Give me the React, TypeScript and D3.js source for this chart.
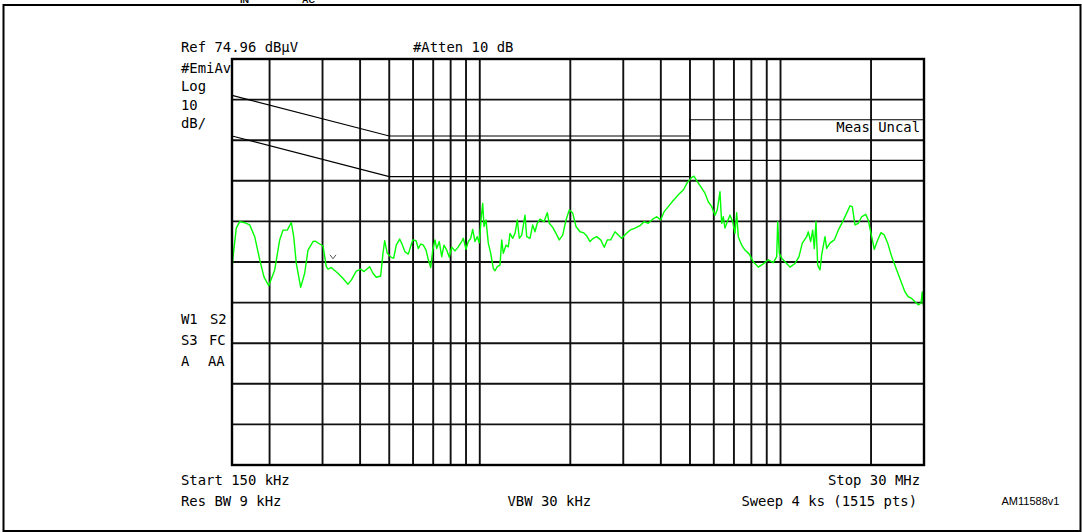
import React from "react";
import * as d3 from "d3";

// ---- Data ----
const refLevelDb = 74.96;
const dbPerDiv = 10;
const startMHz = 0.15;
const stopMHz = 30;
const gridFreqMHz = [0.2, 0.3, 0.4, 0.5, 0.6, 0.7, 0.8, 0.9, 1, 2, 3, 4, 5, 6, 7, 8, 9, 10, 20];

const qpLimitFreq = [0.15, 0.5, 5, 5, 30];
const qpLimitDb = [66, 56, 56, 60, 60];
const avgLimitFreq = [0.15, 0.5, 5, 5, 30];
const avgLimitDb = [56, 46, 46, 50, 50];

const traceFreqMHz = [
  0.150, 0.1512, 0.1550, 0.1591, 0.1644, 0.1718, 0.1785, 0.1855, 0.1916, 0.1987,
  0.2080, 0.2161, 0.2216, 0.2291, 0.2362, 0.2406, 0.2454, 0.2538, 0.2617, 0.2684,
  0.2789, 0.2838, 0.2936, 0.3011, 0.3088, 0.3128, 0.3208, 0.3275, 0.3377, 0.3509,
  0.3645, 0.3739, 0.3885, 0.4018, 0.4121, 0.4305, 0.4414, 0.4527, 0.4682, 0.4765,
  0.4828, 0.4925, 0.5078, 0.5172, 0.5276, 0.5415, 0.5512, 0.5640, 0.5784, 0.5985,
  0.6138, 0.6247, 0.6363, 0.6491, 0.6626, 0.6744, 0.6869, 0.6975, 0.7097, 0.7190,
  0.7335, 0.7471, 0.7604, 0.7763, 0.7919, 0.8066, 0.8272, 0.8483, 0.8707, 0.8814,
  0.8999, 0.9159, 0.9328, 0.9472, 0.9640, 0.9812, 0.9963, 1.0094, 1.0226, 1.0328,
  1.0488, 1.0674, 1.0872, 1.1091, 1.1236, 1.1436, 1.1675, 1.1828, 1.1973, 1.2224,
  1.2441, 1.2604, 1.2867, 1.3096, 1.3329, 1.3534, 1.3785, 1.4138, 1.4323, 1.4688,
  1.4995, 1.5261, 1.5532, 1.5857, 1.6351, 1.6769, 1.7028, 1.7476, 1.7923, 1.8381,
  1.8866, 1.9350, 1.9845, 2.0368, 2.0889, 2.1539, 2.2090, 2.2673, 2.3254, 2.3848,
  2.4478, 2.5240, 2.5944, 2.6547, 2.7246, 2.8158, 2.8878, 2.9640, 3.0630, 3.1583,
  3.2815, 3.4095, 3.5155, 3.6330, 3.7575, 3.8744, 3.9950, 4.0973, 4.2346, 4.3998,
  4.5715, 4.7502, 4.8979, 5.0656, 5.1556, 5.2632, 5.4268, 5.6083, 5.7520, 5.9036,
  6.0549, 6.1624, 6.2910, 6.3734, 6.4519, 6.5364, 6.6526, 6.7915, 6.9334, 7.0566,
  7.1490, 7.2371, 7.4281, 7.6181, 7.8730, 8.1178, 8.4351, 8.7644, 9.1065, 9.4620,
  9.7116, 9.7864, 9.9070, 10.091, 10.349, 10.752, 11.172, 11.519, 11.814, 12.219,
  12.370, 12.599, 12.793, 12.951, 13.121, 13.292, 13.529, 13.706, 14.056, 14.240,
  14.605, 15.094, 15.563, 16.097, 16.597, 17.022, 17.324, 17.687, 18.138, 18.617,
  19.196, 19.582, 19.991, 20.502, 21.044, 21.582, 22.134, 22.718, 23.426, 24.339,
  25.287, 25.934, 26.598, 27.300, 27.999, 28.716, 29.315, 29.609, 29.837, 30.0,
];
const traceLevelDb = [
  23.0, 26.2, 33.3, 34.9, 34.7, 34.1, 31.2, 25.5, 21.3, 19.1,
  23.0, 30.4, 32.8, 32.8, 34.7, 31.2, 24.6, 18.7, 22.2, 27.9,
  30.0, 30.1, 29.4, 28.9, 23.8, 23.2, 23.6, 23.0, 22.2, 20.9,
  19.5, 20.5, 22.7, 23.2, 22.6, 23.8, 22.2, 21.2, 21.5, 27.1,
  30.2, 27.1, 26.1, 25.9, 29.1, 30.6, 29.4, 27.5, 26.9, 30.4,
  30.2, 28.3, 29.4, 29.1, 27.9, 25.5, 23.6, 27.9, 30.4, 28.3,
  30.0, 26.3, 29.1, 27.9, 26.1, 28.6, 27.7, 28.7, 30.0, 30.8,
  28.1, 30.0, 30.8, 33.0, 30.0, 31.2, 29.7, 35.3, 39.4, 33.7,
  35.3, 29.6, 27.1, 23.4, 22.8, 23.8, 24.2, 30.4, 27.1, 29.1,
  28.7, 32.0, 30.8, 32.0, 35.3, 30.8, 31.6, 36.5, 31.2, 30.8,
  34.1, 32.4, 34.5, 35.5, 34.9, 37.1, 34.5, 33.5, 32.0, 30.4,
  31.6, 35.3, 37.8, 37.0, 33.7, 32.4, 32.2, 31.4, 30.0, 30.8,
  31.2, 30.4, 28.6, 30.4, 30.4, 32.4, 31.6, 30.8, 31.9, 32.8,
  33.3, 33.9, 34.9, 34.5, 35.5, 36.1, 35.3, 37.3, 38.6, 40.1,
  41.5, 42.7, 44.5, 45.8, 46.1, 45.0, 43.5, 41.9, 39.8, 38.6,
  36.5, 37.8, 42.3, 34.5, 36.1, 33.3, 34.9, 36.5, 34.9, 32.0,
  37.1, 31.2, 29.1, 27.9, 26.9, 25.0, 23.7, 24.5, 25.5, 24.8,
  26.3, 34.9, 27.1, 25.9, 25.0, 23.7, 24.6, 26.3, 29.6, 31.2,
  32.4, 30.0, 32.8, 28.3, 34.9, 24.2, 23.0, 26.7, 31.2, 28.3,
  29.6, 30.4, 32.8, 34.9, 37.0, 38.8, 38.6, 34.1, 34.5, 36.1,
  36.7, 35.3, 32.0, 28.1, 30.4, 32.2, 31.6, 29.6, 26.3, 23.0,
  19.7, 17.6, 16.4, 16.0, 15.2, 14.4, 14.8, 17.6, 14.4, 14.8,
];

const markerFreqMHz = 0.325;
const markerDb = 26.0;

const topLeftLabels = ["#EmiAv", "Log", "10", "dB/"];

// ---- Layout ----
const W = 1082;
const H = 532;
const plot = { left: 232, right: 924, top: 59, bottom: 465 };
const MONO = "'DejaVu Sans Mono', 'Liberation Mono', monospace";
const FS = 13.9;

export default function App() {
  const x = d3.scaleLog().domain([startMHz, stopMHz]).range([plot.left, plot.right]);
  const y = d3
    .scaleLinear()
    .domain([refLevelDb - dbPerDiv * 10, refLevelDb])
    .range([plot.bottom, plot.top]);

  const hTicks = d3.range(1, 10).map((i) => refLevelDb - i * dbPerDiv);

  const line = d3
    .line<[number, number]>()
    .x((d) => x(d[0]))
    .y((d) => y(d[1]));

  const trace = traceFreqMHz.map((f, i) => [f, traceLevelDb[i]] as [number, number]);
  const qp = qpLimitFreq.map((f, i) => [f, qpLimitDb[i]] as [number, number]);
  const av = avgLimitFreq.map((f, i) => [f, avgLimitDb[i]] as [number, number]);

  const mx = x(markerFreqMHz);
  const my = y(markerDb);

  const textStyle: React.CSSProperties = { whiteSpace: "pre" };

  return (
    <svg
      width={W}
      height={H}
      style={{ position: "absolute", left: 0, top: 0, background: "#fff" }}
    >
      <rect x={0} y={0} width={W} height={H} fill="#fff" />
      {/* cut-off title subscripts */}
      <g fontFamily="Arial, 'Liberation Sans', sans-serif" fontWeight="bold" fontSize={9} fill="#000">
        <text x={240} y={2.5}>IN</text>
        <text x={302} y={2.5}>AC</text>
      </g>
      {/* outer frame */}
      <rect x={3.5} y={5} width={1077} height={526} fill="none" stroke="#000" strokeWidth={2} />

      <defs>
        <clipPath id="plotClip">
          <rect x={plot.left} y={plot.top} width={plot.right - plot.left} height={plot.bottom - plot.top} />
        </clipPath>
      </defs>

      {/* grid */}
      <g stroke="#111" strokeWidth={1.9}>
        {hTicks.map((v) => (
          <line key={"h" + v} x1={plot.left} x2={plot.right} y1={y(v)} y2={y(v)} />
        ))}
        {gridFreqMHz.map((f) => (
          <line key={"v" + f} x1={x(f)} x2={x(f)} y1={plot.top} y2={plot.bottom} />
        ))}
      </g>

      {/* limit lines */}
      <g fill="none" stroke="#000" strokeWidth={1.1} clipPath="url(#plotClip)">
        <path d={line(qp) || ""} />
        <path d={line(av) || ""} />
      </g>

      {/* trace */}
      <g clipPath="url(#plotClip)">
        <path d={line(trace) || ""} fill="none" stroke="#00ff00" strokeWidth={1.4} strokeLinejoin="round" />
      </g>

      {/* marker */}
      <path
        d={`M${mx - 3},${my - 3} L${mx},${my + 1} L${mx + 3},${my - 3}`}
        fill="none"
        stroke="#555"
        strokeWidth={1}
      />

      {/* plot border */}
      <rect
        x={plot.left}
        y={plot.top}
        width={plot.right - plot.left}
        height={plot.bottom - plot.top}
        fill="none"
        stroke="#000"
        strokeWidth={2.4}
      />

      {/* annotations */}
      <g fontFamily={MONO} fontSize={FS} fill="#000" style={textStyle}>
        <text x={181} y={51.7}>Ref 74.96 dBµV</text>
        <text x={413} y={51.7}>#Atten 10 dB</text>
        {topLeftLabels.map((t, i) => (
          <text key={t} x={181} y={72.5 + i * 18.6}>{t}</text>
        ))}
        <text x={181} y={324}>W1</text>
        <text x={210} y={324}>S2</text>
        <text x={181} y={345}>S3</text>
        <text x={209} y={345}>FC</text>
        <text x={181} y={366}>A</text>
        <text x={208} y={366}>AA</text>
        <text x={920} y={132} textAnchor="end">Meas Uncal</text>
        <text x={181} y={485}>Start 150 kHz</text>
        <text x={181} y={505.5}>Res BW 9 kHz</text>
        <text x={507.5} y={505.5}>VBW 30 kHz</text>
        <text x={920} y={485} textAnchor="end">Stop 30 MHz</text>
        <text x={917} y={505.5} textAnchor="end">Sweep 4 ks (1515 pts)</text>
      </g>
      <text x={1001.5} y={505} fontFamily="Arial, 'Liberation Sans', sans-serif" fontSize={11} fill="#000">
        AM11588v1
      </text>
    </svg>
  );
}
